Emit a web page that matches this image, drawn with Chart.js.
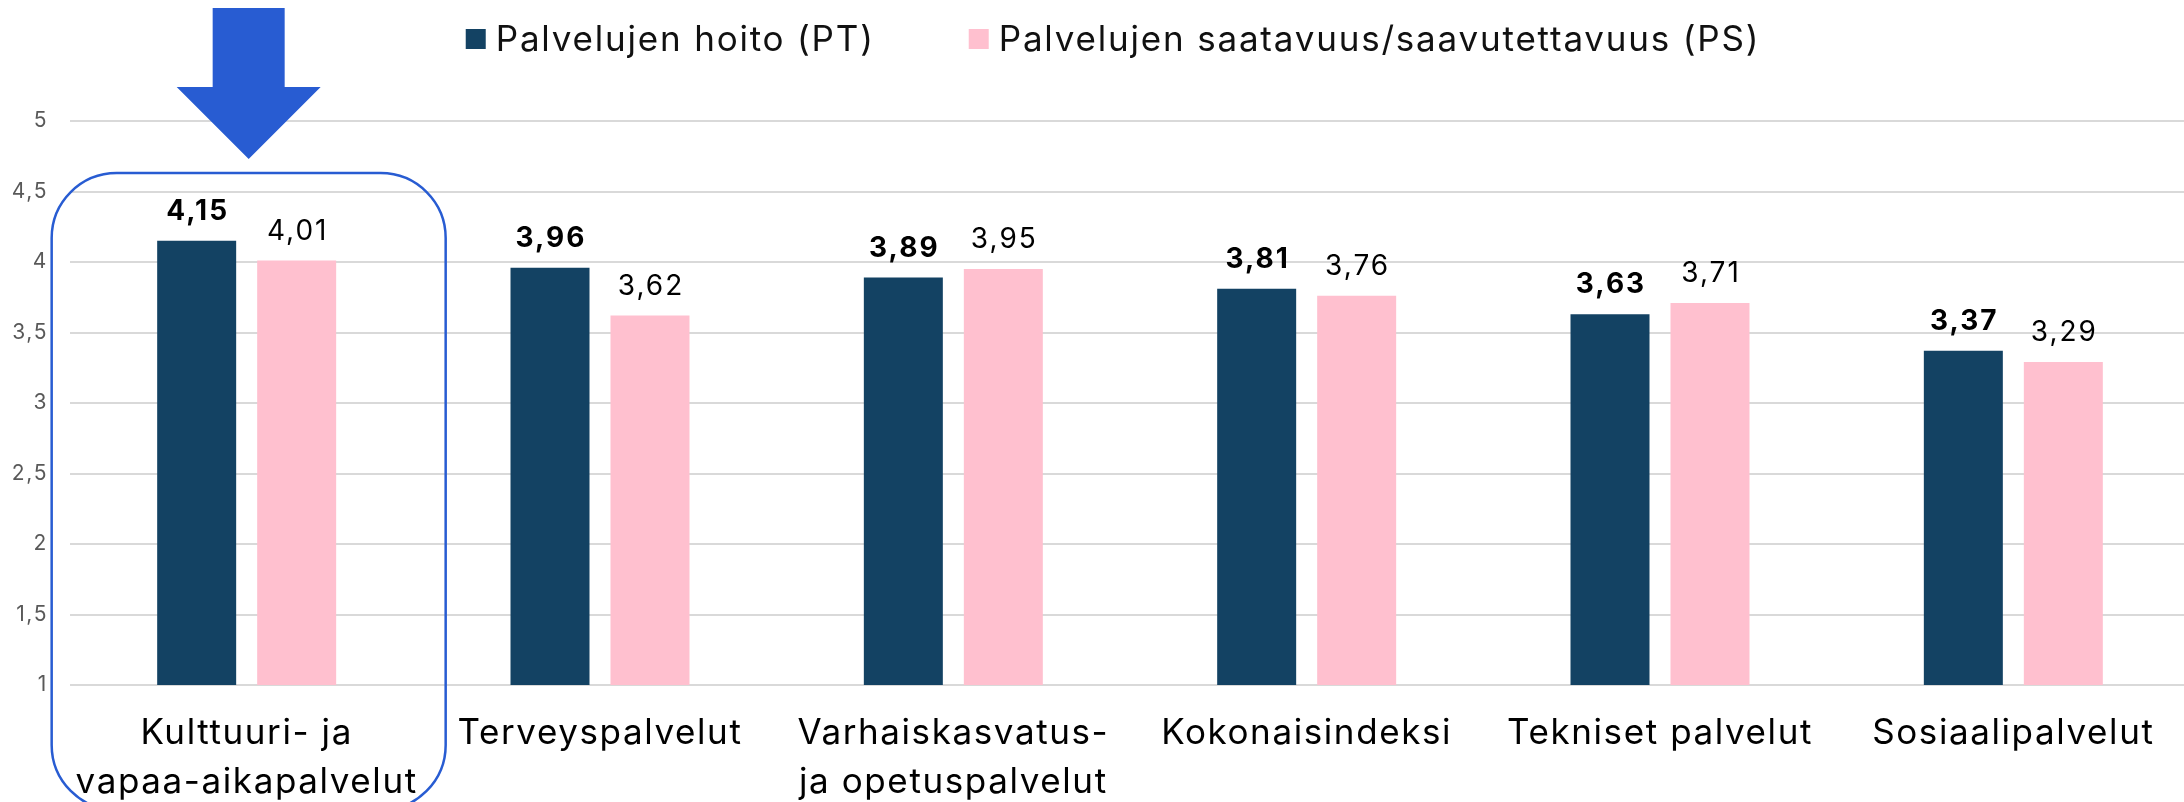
<!DOCTYPE html>
<html>
<head>
<meta charset="utf-8">
<script src="https://cdn.jsdelivr.net/npm/chart.js@4.4.1/dist/chart.umd.min.js"></script>
<style>
  html, body { margin: 0; padding: 0; background: #fff; overflow: hidden; }
  #wrap { width: 2184px; height: 802px; overflow: hidden; }
</style>
</head>
<body>
<div id="wrap"><canvas id="chart" width="2190" height="802"></canvas></div>
<script>
const categories = [
  ['Kulttuuri- ja', 'vapaa-aikapalvelut'],
  'Terveyspalvelut',
  ['Varhaiskasvatus-', 'ja opetuspalvelut'],
  'Kokonaisindeksi',
  'Tekniset palvelut',
  'Sosiaalipalvelut'
]
const seriesNames = ['Palvelujen hoito (PT)', 'Palvelujen saatavuus/saavutettavuus (PS)']
const ptValues = [4.15, 3.96, 3.89, 3.81, 3.63, 3.37]
const psValues = [4.01, 3.62, 3.95, 3.76, 3.71, 3.29]
const yTicks = [1, 1.5, 2, 2.5, 3, 3.5, 4, 4.5, 5]

const FONT = 'Inter, "Noto Sans", sans-serif'
const DARK = '#134263'
const PINK = '#FFC0CF'
const HILITE = '#285CD2'

const comma = (v, d) => (d == null ? String(v) : v.toFixed(d)).replace('.', ',')

// the original typeface runs wider than Inter, so space the letters a bit
const spacing = {
  id: 'spacing',
  beforeDraw(chart) { chart.ctx.letterSpacing = '1.6px' }
}

// value labels above the bars
const valueLabels = {
  id: 'valueLabels',
  afterDatasetsDraw(chart) {
    const ctx = chart.ctx
    ctx.save()
    ctx.letterSpacing = '2px'
    ctx.textAlign = 'center'
    ctx.textBaseline = 'alphabetic'
    ctx.fillStyle = '#000'
    chart.data.datasets.forEach((ds, i) => {
      ctx.font = (i === 0 ? 'bold ' : '') + '28px ' + FONT
      chart.getDatasetMeta(i).data.forEach((bar, j) => {
        ctx.fillText(comma(ds.data[j], 2), bar.x + 1, bar.y - 21)
      })
    })
    ctx.restore()
  }
}

// legend + highlight arrow and frame around first category
const extras = {
  id: 'extras',
  afterDraw(chart) {
    const ctx = chart.ctx
    const x = chart.scales.x
    const cx = x.getPixelForValue(0) + 2

    // legend
    ctx.save()
    ctx.letterSpacing = '1.8px'
    ctx.font = '35px ' + FONT
    ctx.textBaseline = 'middle'
    const box = 20, gap = 10, itemGap = 94
    const widths = chart.data.datasets.map(ds => ctx.measureText(ds.label).width)
    const total = widths.reduce((a, w) => a + box + gap + w, 0) + itemGap
    let lx = 1113 - total / 2
    const ly = 39
    chart.data.datasets.forEach((ds, i) => {
      ctx.fillStyle = ds.backgroundColor
      ctx.fillRect(lx, ly - box / 2, box, box)
      ctx.fillStyle = '#111'
      ctx.fillText(ds.label, lx + box + gap, ly + 1)
      lx += box + gap + widths[i] + itemGap
    })
    ctx.restore()

    // arrow
    ctx.save()
    ctx.fillStyle = HILITE
    ctx.beginPath()
    ctx.moveTo(cx - 36, 8)
    ctx.lineTo(cx + 36, 8)
    ctx.lineTo(cx + 36, 87)
    ctx.lineTo(cx + 72, 87)
    ctx.lineTo(cx, 159)
    ctx.lineTo(cx - 72, 87)
    ctx.lineTo(cx - 36, 87)
    ctx.closePath()
    ctx.fill()

    // rounded frame
    ctx.strokeStyle = HILITE
    ctx.lineWidth = 2.5
    ctx.beginPath()
    ctx.roundRect(cx - 197, 173, 394, 637, 65)
    ctx.stroke()
    ctx.restore()
  }
}

new Chart(document.getElementById('chart'), {
  type: 'bar',
  data: {
    labels: categories,
    datasets: [
      { label: seriesNames[0], data: ptValues, backgroundColor: DARK },
      { label: seriesNames[1], data: psValues, backgroundColor: PINK }
    ]
  },
  options: {
    responsive: false,
    animation: false,
    layout: { padding: { top: 121, left: 0, right: 0, bottom: 0 } },
    datasets: {
      bar: { categoryPercentage: 0.566, barPercentage: 0.79 }
    },
    plugins: {
      legend: { display: false },
      tooltip: { enabled: false }
    },
    scales: {
      x: {
        afterFit(s) { s.height = 117 },
        grid: { display: false, drawTicks: false },
        border: { display: false },
        ticks: {
          padding: 24,
          color: '#000',
          maxRotation: 0,
          autoSkip: false,
          font: { family: FONT, size: 35, lineHeight: 1.4 }
        }
      },
      y: {
        min: 1,
        max: 5,
        afterBuildTicks(s) { s.ticks = yTicks.map(v => ({ value: v })) },
        afterFit(s) { s.width = 70 },
        grid: { color: '#D9D9D9', lineWidth: 2, drawTicks: false },
        border: { display: false },
        ticks: {
          padding: 22,
          color: '#595959',
          font: { family: FONT, size: 21 },
          callback: v => comma(v)
        }
      }
    }
  },
  plugins: [spacing, valueLabels, extras]
})
</script>
</body>
</html>
